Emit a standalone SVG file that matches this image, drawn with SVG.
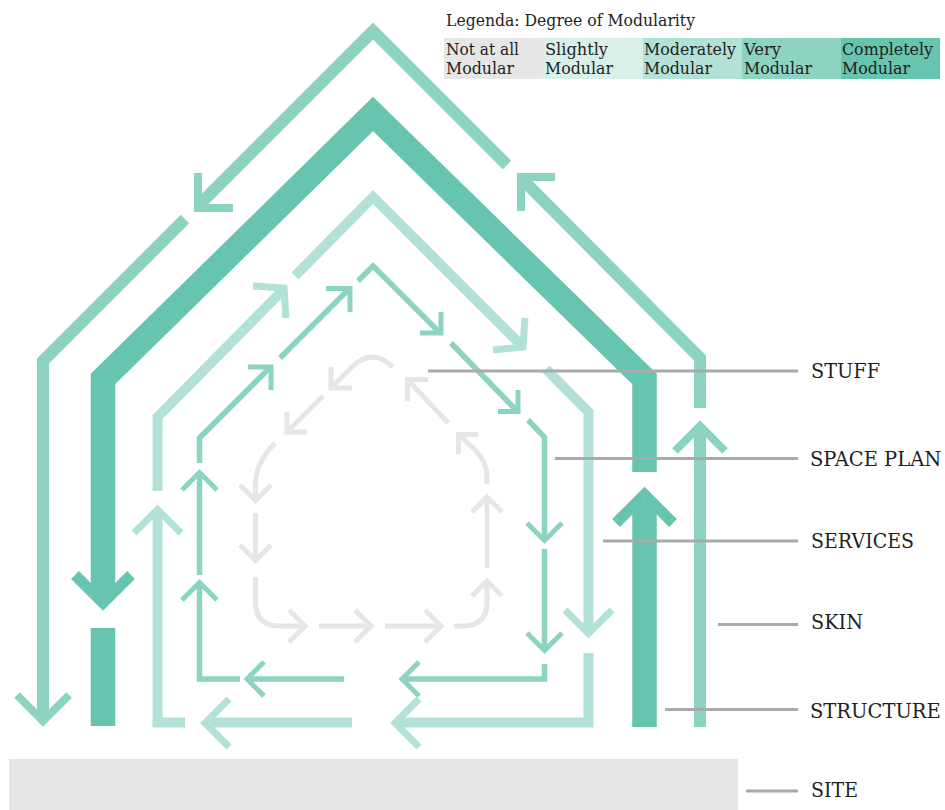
<svg xmlns="http://www.w3.org/2000/svg" width="945" height="810" viewBox="0 0 945 810">
  <style>
    text { font-family: "DejaVu Serif", "Liberation Serif", serif; fill: #1e1e1e; }
    .lg { font-size: 16.5px; }
    .lbl { font-size: 21px; }
    .lbl-long { font-size: 19.5px; }
    .ln { fill: none; stroke-linejoin: miter; stroke-linecap: butt; stroke-miterlimit: 10; }
    .skin { stroke: #8dd3c1; stroke-width: 12; }
    .skin-h { stroke: #8dd3c1; stroke-width: 8; }
    .struct { stroke: #67c4ae; stroke-width: 24.5; }
    .struct-h { stroke: #67c4ae; stroke-width: 11; }
    .serv { stroke: #b2e2d7; stroke-width: 10; }
    .serv-h { stroke: #b2e2d7; stroke-width: 7; }
    .space { stroke: #8dd3c1; stroke-width: 5.5; }
    .space-h { stroke: #8dd3c1; stroke-width: 5; }
    .stuff { stroke: #e6e6e6; stroke-width: 5; }
    .lead { stroke: #aaaaaa; stroke-width: 3; fill: none; }
  </style>

  <!-- Legend -->
  <g id="legend">
    <text class="lg" x="446" y="26" textLength="249" lengthAdjust="spacingAndGlyphs">Legenda: Degree of Modularity</text>
    <rect x="444" y="38" width="99" height="41" fill="#e6e6e6"/>
    <rect x="543" y="38" width="100" height="41" fill="#d9f0ea"/>
    <rect x="643" y="38" width="99" height="41" fill="#b2e2d7"/>
    <rect x="742" y="38" width="99" height="41" fill="#8dd3c1"/>
    <rect x="841" y="38" width="99" height="41" fill="#67c4ae"/>
    <text class="lg" x="446" y="55" textLength="73" lengthAdjust="spacingAndGlyphs">Not at all</text>
    <text class="lg" x="446" y="74" textLength="68" lengthAdjust="spacingAndGlyphs">Modular</text>
    <text class="lg" x="545" y="55" textLength="63" lengthAdjust="spacingAndGlyphs">Slightly</text>
    <text class="lg" x="545" y="74" textLength="68" lengthAdjust="spacingAndGlyphs">Modular</text>
    <text class="lg" x="644" y="55" textLength="92" lengthAdjust="spacingAndGlyphs">Moderately</text>
    <text class="lg" x="644" y="74" textLength="68" lengthAdjust="spacingAndGlyphs">Modular</text>
    <text class="lg" x="744" y="55" textLength="37" lengthAdjust="spacingAndGlyphs">Very</text>
    <text class="lg" x="744" y="74" textLength="68" lengthAdjust="spacingAndGlyphs">Modular</text>
    <text class="lg" x="842" y="55" textLength="91" lengthAdjust="spacingAndGlyphs">Completely</text>
    <text class="lg" x="842" y="74" textLength="68" lengthAdjust="spacingAndGlyphs">Modular</text>
  </g>

  <!-- Site -->
  <g id="site">
    <rect x="9" y="759" width="729" height="51" fill="#e6e6e6"/>
  </g>

  <!-- Stuff: grey loop of short arrows with rounded corners -->
  <g id="stuff" class="ln stuff">
    <path d="M393,367 Q373,348 353,366 L332,387"/>
    <path d="M331,367 L331,388 L352,388"/>
    <path d="M323,396 L288,431"/>
    <path d="M287,412 L287,432 L307,432"/>
    <path d="M275,443 Q255.5,463 255.5,484 V499"/>
    <path d="M240,485 L255.5,500.5 L271,485"/>
    <path d="M255.5,513 V558"/>
    <path d="M240,545 L255.5,560.5 L271,545"/>
    <path d="M255.5,577 V602 Q255.5,626 280,626 H303"/>
    <path d="M289,610 L305,626 L289,642"/>
    <path d="M319,626 H369"/>
    <path d="M355,610 L371,626 L355,642"/>
    <path d="M385,626 H439"/>
    <path d="M425,610 L441,626 L425,642"/>
    <path d="M454,626 H463 Q487,626 487,602 V583"/>
    <path d="M472,596 L487,581 L502,596"/>
    <path d="M487,568 V499"/>
    <path d="M472,512 L487,497 L502,512"/>
    <path d="M487,484 V478 Q487,462 476,451 L460,435.5"/>
    <path d="M458.5,454 L458.5,434.5 L478,434.5"/>
    <path d="M448,423 L409,381"/>
    <path d="M407.5,401 L407.5,379.5 L428,379.5"/>
  </g>

  <!-- Space plan -->
  <g id="space-plan" class="ln">
    <path class="space" d="M240,679 H199.5 V585"/>
    <path class="space-h" d="M182,600 L199.5,582.5 L217,600"/>
    <path class="space" d="M199.5,575 V475"/>
    <path class="space-h" d="M182,490 L199.5,472.5 L217,490"/>
    <path class="space" d="M199.5,463 V438 L270,367.5"/>
    <path class="space-h" d="M248,367 L271,367 L271,390"/>
    <path class="space" d="M280,358 L349,289"/>
    <path class="space-h" d="M326,288.5 L350,288.5 L350,312"/>
    <path class="space" d="M358,281 L373,266 L440,333"/>
    <path class="space-h" d="M420,333 L441,333 L441,312"/>
    <path class="space" d="M451,343 L517,411"/>
    <path class="space-h" d="M498,411.5 L518,411.5 L518,390"/>
    <path class="space" d="M528,420 L544.5,437 V538"/>
    <path class="space-h" d="M527,523 L544.5,540.5 L562,523"/>
    <path class="space" d="M544.5,549 V648"/>
    <path class="space-h" d="M527,633 L544.5,650.5 L562,633"/>
    <path class="space" d="M544.5,664 V679 H405"/>
    <path class="space-h" d="M419,662 L402,679 L419,696"/>
    <path class="space" d="M344,679 H250"/>
    <path class="space-h" d="M264,662 L247,679 L264,696"/>
  </g>

  <!-- Services -->
  <g id="services" class="ln">
    <path class="serv" d="M185,722.5 H157.5 V513"/>
    <path class="serv-h" d="M134,533 L157.5,509.5 L181,533"/>
    <path class="serv" d="M157.5,491 V417 L283,290"/>
    <path class="serv-h" d="M253,286 L284,288 L286,318"/>
    <path class="serv" d="M295,276 L373,197 L522,346"/>
    <path class="serv-h" d="M493,350 L523,347 L525,318"/>
    <path class="serv" d="M546,369 L588.5,412 V631"/>
    <path class="serv-h" d="M565,610 L588.5,633.5 L612,610"/>
    <path class="serv" d="M588.5,653 V722.5 H398"/>
    <path class="serv-h" d="M419,699 L395,723 L419,747"/>
    <path class="serv" d="M352,722.5 H208"/>
    <path class="serv-h" d="M229,699 L205,723 L229,747"/>
  </g>

  <!-- Structure -->
  <g id="structure" class="ln">
    <path class="struct" d="M644.5,727 V503"/>
    <path class="struct-h" d="M616,523 L644.5,494.5 L673,523"/>
    <path class="struct" d="M644.5,472 V379 L373,114 L103,379 V595"/>
    <path class="struct-h" d="M75,575 L103,603 L131,575"/>
    <path class="struct" d="M103,628 V726"/>
  </g>

  <!-- Skin -->
  <g id="skin" class="ln">
    <path class="skin" d="M700,727 V429"/>
    <path class="skin-h" d="M675,451 L700,426 L725,451"/>
    <path class="skin" d="M700,408 V358 L522,179"/>
    <path class="skin-h" d="M521,211 L521,177 L555,177"/>
    <path class="skin" d="M507,165 L373,31 L199,205"/>
    <path class="skin-h" d="M198,173 L198,208 L233,208"/>
    <path class="skin" d="M185,219 L43,361 V718"/>
    <path class="skin-h" d="M17,695 L43,721 L69,695"/>
  </g>

  <!-- Leader lines -->
  <g id="connectors" class="lead">
    <path d="M428,371 H798"/>
    <path d="M555,458.5 H798"/>
    <path d="M603,541 H798"/>
    <path d="M718,624.5 H798"/>
    <path d="M665,709.5 H798"/>
    <path d="M746,791 H798"/>
  </g>

  <!-- Layer labels -->
  <g id="labels">
    <text class="lbl" x="811" y="378" textLength="69" lengthAdjust="spacingAndGlyphs">STUFF</text>
    <text class="lbl-long" x="810" y="466">SPACE PLAN</text>
    <text class="lbl" x="811" y="548" textLength="103" lengthAdjust="spacingAndGlyphs">SERVICES</text>
    <text class="lbl" x="811" y="629" textLength="52" lengthAdjust="spacingAndGlyphs">SKIN</text>
    <text class="lbl-long" x="810" y="718">STRUCTURE</text>
    <text class="lbl" x="811" y="797" textLength="47" lengthAdjust="spacingAndGlyphs">SITE</text>
  </g>
</svg>
